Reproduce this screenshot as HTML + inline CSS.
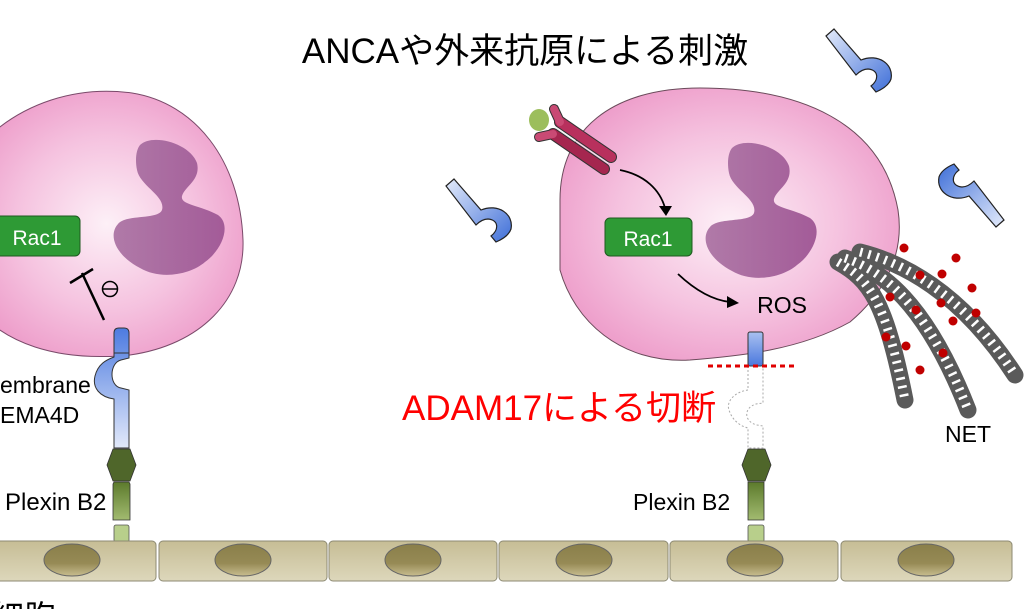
<!DOCTYPE html>
<html><head><meta charset="utf-8"><style>
html,body{margin:0;padding:0;background:#fff;}
svg{display:block;}
text{font-family:"Liberation Sans","Noto Sans CJK JP",sans-serif;}
</style></head><body>
<svg width="1024" height="609" viewBox="0 0 1024 609" xmlns="http://www.w3.org/2000/svg">
<defs>
<radialGradient id="cell" cx="0.5" cy="0.5" r="0.6">
<stop offset="0" stop-color="#fdf0f7"/><stop offset="0.55" stop-color="#f5c2df"/><stop offset="1" stop-color="#ec96c6"/>
</radialGradient>
<linearGradient id="nuc" x1="0" y1="0" x2="1" y2="0"><stop offset="0" stop-color="#b07aa8"/><stop offset="1" stop-color="#a35b98"/></linearGradient>
<linearGradient id="sema" x1="0" y1="0" x2="0" y2="1"><stop offset="0" stop-color="#4d7be0"/><stop offset="1" stop-color="#e2e9fa"/></linearGradient>
<linearGradient id="semat" x1="0" y1="0" x2="0" y2="1"><stop offset="0" stop-color="#a9c0f0"/><stop offset="1" stop-color="#4a78de"/></linearGradient>
<linearGradient id="gbar" x1="0" y1="0" x2="0" y2="1"><stop offset="0" stop-color="#5c7a2c"/><stop offset="1" stop-color="#a2bb70"/></linearGradient>
<linearGradient id="endo" x1="0" y1="0" x2="0" y2="1"><stop offset="0" stop-color="#c6bd95"/><stop offset="1" stop-color="#ddd7bb"/></linearGradient>
<linearGradient id="enuc" x1="0" y1="0" x2="0" y2="1"><stop offset="0" stop-color="#8a7f4a"/><stop offset="0.6" stop-color="#968a55"/><stop offset="1" stop-color="#c8bd8f"/></linearGradient>
<linearGradient id="ab" x1="0" y1="0" x2="1" y2="1"><stop offset="0" stop-color="#e4ebfb"/><stop offset="1" stop-color="#3f6fd8"/></linearGradient>
<path id="abp" d="M446,186 L454,179 L481,210 C498,203 514,214 511,229 C509,235 503,239 496,242 L491,236 C499,230 499,220 488,219 C483,219 479,222 476,225 Z" stroke="#222" stroke-width="1.2" fill="url(#ab)"/>
</defs>

<text x="525" y="63" font-size="35" text-anchor="middle" fill="#000">ANCAや外来抗原による刺激</text>

<use href="#abp"/>
<use href="#abp" transform="translate(380,-150)"/>
<use href="#abp" transform="translate(972,196) rotate(180) translate(-478,-210)"/>

<path d="M-25,150 C20,100 80,86 132,93 C195,103 240,160 243,240 C245,300 200,345 130,355 C60,362 0,345 -30,300 Z" fill="url(#cell)" stroke="#7a4a6a" stroke-width="1"/>
<path id="nucl" d="M140,145 C152,133 190,143 197,163 C201,180 185,186 182,196 C180,205 200,205 218,215 C232,225 222,250 205,262 C190,275 160,280 140,268 C115,255 108,235 118,224 C126,214 158,220 162,210 C166,196 140,186 137,170 C135,160 136,150 140,145 Z" fill="url(#nuc)"/>
<rect x="-6" y="216" width="86" height="40" rx="5" fill="#2e9a35" stroke="#1d5a1f" stroke-width="1"/>
<text x="37" y="245" font-size="21" fill="#fff" text-anchor="middle">Rac1</text>
<line x1="82" y1="273" x2="104" y2="320" stroke="#000" stroke-width="2.5"/>
<line x1="70" y1="283" x2="93" y2="269" stroke="#000" stroke-width="2.5"/>
<circle cx="110" cy="289" r="7.5" fill="none" stroke="#000" stroke-width="1.5"/>
<line x1="103" y1="289" x2="117" y2="289" stroke="#000" stroke-width="1.5"/>

<path d="M114,333 Q114,328 119,328 L124,328 Q129,328 129,333 L129,358 L121,360 C109,363 109,386 121,388 L129,390 L129,448 L114,448 L114,399 C100,397 92,388 95,376 C98,364 106,360 114,357 Z" fill="url(#sema)" stroke="#333" stroke-width="1"/>
<line x1="114" y1="353" x2="129" y2="353" stroke="#333" stroke-width="1"/>
<polygon points="113,449 130,449 136,465 130,481 113,481 107,465" fill="#4f662a" stroke="#333" stroke-width="0.8"/>
<path d="M114,482 L129,482 L130,484 L130,520 L113,520 L113,484 Z" fill="url(#gbar)" stroke="#333" stroke-width="0.8"/>
<rect x="114" y="525" width="15" height="17" rx="2" fill="#b8cf8b" stroke="#555" stroke-width="0.8"/>
<text x="0" y="393" font-size="23" fill="#000">embrane</text>
<text x="0" y="423" font-size="23" fill="#000">EMA4D</text>
<text x="5" y="510" font-size="24" fill="#000">Plexin B2</text>

<path d="M560,200 C560,130 612,88 700,88 C800,88 882,122 898,210 C906,262 876,300 850,322 C800,350 740,356 690,360 C620,364 574,320 560,270 Z" fill="url(#cell)" stroke="#6a4a5a" stroke-width="1"/>
<use href="#nucl" transform="translate(592,3)"/>
<g stroke-linecap="round">
<line x1="560" y1="122" x2="611" y2="157" stroke="#333" stroke-width="12"/>
<line x1="553" y1="134" x2="604" y2="169" stroke="#333" stroke-width="12"/>
<line x1="560" y1="122" x2="554" y2="109" stroke="#333" stroke-width="10"/>
<line x1="553" y1="134" x2="539" y2="137" stroke="#333" stroke-width="10"/>
<line x1="560" y1="122" x2="611" y2="157" stroke="#b8305d" stroke-width="10"/>
<line x1="553" y1="134" x2="604" y2="169" stroke="#a5264f" stroke-width="10"/>
<line x1="560" y1="122" x2="554" y2="109" stroke="#c94a74" stroke-width="8"/>
<line x1="553" y1="134" x2="539" y2="137" stroke="#c94a74" stroke-width="8"/>
<line x1="556" y1="128" x2="608" y2="163" stroke="#eee" stroke-width="1"/>
</g>
<ellipse cx="539" cy="120" rx="10" ry="11" fill="#9cbe5c"/>
<path d="M620,170 C645,175 660,190 665,208" fill="none" stroke="#000" stroke-width="1.8"/>
<polygon points="659,206 672,206 666,216" fill="#000"/>
<rect x="605" y="218" width="87" height="38" rx="5" fill="#2e9a35" stroke="#1d5a1f" stroke-width="1"/>
<text x="648" y="246" font-size="21" fill="#fff" text-anchor="middle">Rac1</text>
<path d="M678,274 C695,290 712,300 730,302" fill="none" stroke="#000" stroke-width="1.8"/>
<polygon points="727,296 739,303 727,308" fill="#000"/>
<text x="782" y="313" font-size="23" fill="#000" text-anchor="middle">ROS</text>

<g fill="none">
<path d="M838,262 C870,280 885,300 905,400" stroke="#5a5a5a" stroke-width="17" stroke-linecap="round"/>
<path d="M845,258 C880,270 925,300 968,410" stroke="#5a5a5a" stroke-width="17" stroke-linecap="round"/>
<path d="M860,252 C900,262 960,290 1015,375" stroke="#5a5a5a" stroke-width="17" stroke-linecap="round"/>
<path d="M838,262 C870,280 885,300 905,400" stroke="#fff" stroke-width="9" stroke-dasharray="2.5 6"/>
<path d="M845,258 C880,270 925,300 968,410" stroke="#fff" stroke-width="9" stroke-dasharray="2.5 6"/>
<path d="M860,252 C900,262 960,290 1015,375" stroke="#fff" stroke-width="9" stroke-dasharray="2.5 6"/>
</g>
<g fill="#c00000">
<circle cx="904" cy="248" r="4.5"/><circle cx="956" cy="258" r="4.5"/><circle cx="920" cy="275" r="4.5"/><circle cx="942" cy="274" r="4.5"/><circle cx="972" cy="288" r="4.5"/><circle cx="890" cy="297" r="4.5"/><circle cx="941" cy="303" r="4.5"/><circle cx="976" cy="313" r="4.5"/><circle cx="953" cy="321" r="4.5"/><circle cx="916" cy="310" r="4.5"/><circle cx="886" cy="337" r="4.5"/><circle cx="906" cy="346" r="4.5"/><circle cx="943" cy="353" r="4.5"/><circle cx="920" cy="370" r="4.5"/>
</g>
<text x="968" y="442" font-size="23" fill="#000" text-anchor="middle">NET</text>

<path d="M748,358 L748,390 C734,392 726,402 729,410 C732,420 740,426 748,428 L748,448 L763,448 L763,426 L757,425 C744,422 743,408 756,404 L763,403 L763,358" fill="none" stroke="#aaa" stroke-width="1" stroke-dasharray="2 2"/>
<rect x="748" y="332" width="15" height="34" rx="2" fill="url(#semat)" stroke="#333" stroke-width="1"/>
<line x1="708" y1="366" x2="798" y2="366" stroke="#e00000" stroke-width="3" stroke-dasharray="5 4"/>
<text x="402" y="420" font-size="35" fill="#ff0000">ADAM17による切断</text>
<polygon points="748,449 765,449 771,465 765,481 748,481 742,465" fill="#4f662a" stroke="#333" stroke-width="0.8"/>
<path d="M748,482 L764,482 L764,520 L748,520 Z" fill="url(#gbar)" stroke="#333" stroke-width="0.8"/>
<rect x="748" y="525" width="16" height="17" rx="2" fill="#b8cf8b" stroke="#555" stroke-width="0.8"/>
<text x="633" y="510" font-size="23" fill="#000">Plexin B2</text>

<g stroke="#8d8a73" stroke-width="1" fill="url(#endo)">
<rect x="-10" y="541" width="166" height="40" rx="4"/>
<rect x="159" y="541" width="168" height="40" rx="4"/>
<rect x="329" y="541" width="168" height="40" rx="4"/>
<rect x="499" y="541" width="169" height="40" rx="4"/>
<rect x="670" y="541" width="168" height="40" rx="4"/>
<rect x="841" y="541" width="171" height="40" rx="4"/>
</g>
<g stroke="#666" stroke-width="1" fill="url(#enuc)">
<ellipse cx="72" cy="560" rx="28" ry="16"/>
<ellipse cx="243" cy="560" rx="28" ry="16"/>
<ellipse cx="413" cy="560" rx="28" ry="16"/>
<ellipse cx="584" cy="560" rx="28" ry="16"/>
<ellipse cx="755" cy="560" rx="28" ry="16"/>
<ellipse cx="926" cy="560" rx="28" ry="16"/>
</g>
<text x="-8" y="628" font-size="32" fill="#000">細胞</text>
</svg>
</body></html>
